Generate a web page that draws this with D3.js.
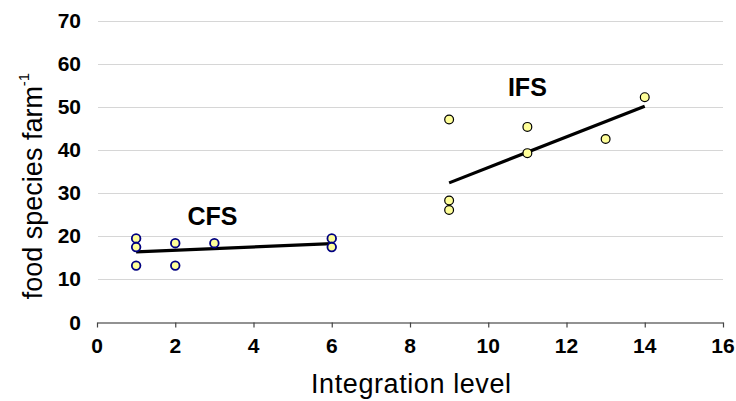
<!DOCTYPE html>
<meta charset="utf-8">
<html>
<head>
    <title>Food species per farm vs integration level</title>
    <script src="https://cdn.jsdelivr.net/npm/d3@7"></script>
</head>

<style>
    body{
        margin: 0;
        background: white;
    }
    svg{
        display: block;
        font-family: "Liberation Sans", Arial, sans-serif;
    }
    .grid line{
        stroke: #d6d6d6;
        stroke-width: 1.2px;
    }
    .tick-label{
        font-weight: bold;
        font-size: 21px;
        fill: #000;
    }
    .axis-title{
        font-size: 27px;
        fill: #000;
    }
    .group-label{
        font-weight: bold;
        font-size: 25px;
        fill: #000;
    }
</style>

<body>
<svg width="736" height="401"></svg>

<script>
    // values
    const cfsX = [1, 1, 1, 2, 2, 3, 6, 6];
    const cfsY = [19.4, 17.4, 13.1, 18.3, 13.1, 18.3, 19.4, 17.4];
    const ifsX = [9, 9, 9, 11, 11, 13, 14];
    const ifsY = [47, 28.2, 26, 45.3, 39.2, 42.5, 52.2];
    const cfsTrendX = [1, 6];
    const cfsTrendY = [16.3, 18.2];
    const ifsTrendX = [9, 14];
    const ifsTrendY = [32.3, 50.1];
    const xTicks = [0, 2, 4, 6, 8, 10, 12, 14, 16];
    const yTicks = [0, 10, 20, 30, 40, 50, 60, 70];

    const svg = d3.select("svg");

    // ***************************************
    //        scales
    // ***************************************
    const x = d3.scaleLinear().domain([0, 16]).range([97, 723]);
    const y = d3.scaleLinear().domain([0, 70]).range([322, 20.5]);

    // gridlines
    svg.append("g").attr("class", "grid")
        .selectAll("line")
        .data(yTicks.filter(d => d > 0))
        .join("line")
        .attr("x1", x(0) + 1).attr("x2", x(16))
        .attr("y1", d => Math.round(y(d)) + 0.5)
        .attr("y2", d => Math.round(y(d)) + 0.5);

    // x axis
    const xAxis = svg.append("g")
        .attr("transform", `translate(0, ${Math.round(y(0)) + 0.5})`)
        .call(d3.axisBottom(x).tickValues(xTicks).tickSize(5).tickSizeOuter(0).tickFormat(""));
    xAxis.select(".domain").attr("stroke", "#6e6e6e").attr("stroke-width", 1.3);
    xAxis.selectAll(".tick line").attr("stroke", "#444").attr("stroke-width", 1.2);

    svg.append("g")
        .selectAll("text")
        .data(xTicks)
        .join("text")
        .attr("class", "tick-label")
        .attr("x", d => x(d))
        .attr("y", 353)
        .attr("text-anchor", "middle")
        .text(d => d);

    // y tick labels (no axis line)
    svg.append("g")
        .selectAll("text")
        .data(yTicks)
        .join("text")
        .attr("class", "tick-label")
        .attr("x", 81)
        .attr("y", d => y(d))
        .attr("dy", "0.36em")
        .attr("text-anchor", "end")
        .text(d => d);

    // axis titles
    svg.append("text")
        .attr("class", "axis-title")
        .attr("x", x(8) + 1)
        .attr("y", 393)
        .attr("text-anchor", "middle")
        .attr("textLength", 200)
        .text("Integration level");

    const yTitle = svg.append("text")
        .attr("class", "axis-title")
        .attr("transform", "translate(42, 186) rotate(-90)")
        .attr("text-anchor", "middle");
    yTitle.append("tspan").text("food species farm");
    yTitle.append("tspan")
        .attr("dy", -13)
        .style("font-size", "15px")
        .text("-1");

    // ***************************************
    //        trend lines
    // ***************************************
    const line = d3.line().x(d => x(d[0])).y(d => y(d[1]));
    [[cfsTrendX, cfsTrendY], [ifsTrendX, ifsTrendY]].forEach(([tx, ty]) => {
        svg.append("path")
            .datum(d3.zip(tx, ty))
            .attr("d", line)
            .attr("fill", "none")
            .attr("stroke", "#000")
            .attr("stroke-width", 3.2);
    });

    // ***************************************
    //        points
    // ***************************************
    svg.append("g")
        .selectAll("circle")
        .data(d3.zip(cfsX, cfsY))
        .join("circle")
        .attr("cx", d => x(d[0]))
        .attr("cy", d => y(d[1]))
        .attr("r", 4.3)
        .attr("fill", "#ffff99")
        .attr("stroke", "#000080")
        .attr("stroke-width", 1.8);

    svg.append("g")
        .selectAll("circle")
        .data(d3.zip(ifsX, ifsY))
        .join("circle")
        .attr("cx", d => x(d[0]))
        .attr("cy", d => y(d[1]))
        .attr("r", 4.4)
        .attr("fill", "#ffff99")
        .attr("stroke", "#000")
        .attr("stroke-width", 1.2);

    // group labels
    svg.append("text")
        .attr("class", "group-label")
        .attr("x", x(2.95)).attr("y", y(22.5))
        .attr("text-anchor", "middle")
        .text("CFS");
    svg.append("text")
        .attr("class", "group-label")
        .attr("x", x(11.0)).attr("y", y(52.4))
        .attr("text-anchor", "middle")
        .text("IFS");
</script>
</body>
</html>
